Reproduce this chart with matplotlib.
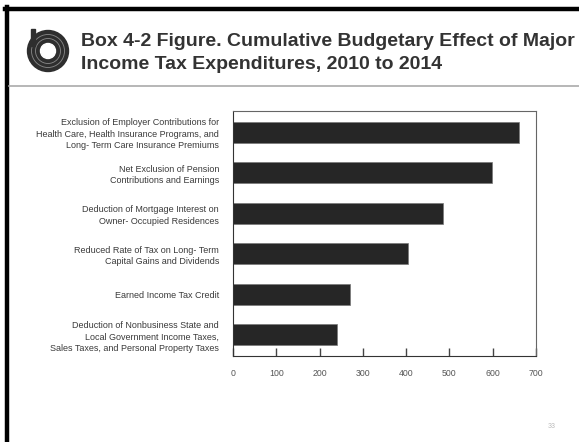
import matplotlib.pyplot as plt
from matplotlib.patches import Circle, Rectangle
import numpy as np

# Data (billions of dollars, 2010-2014)
categories = [
    "Exclusion of Employer Contributions for\nHealth Care, Health Insurance Programs, and\nLong- Term Care Insurance Premiums",
    "Net Exclusion of Pension\nContributions and Earnings",
    "Deduction of Mortgage Interest on\nOwner- Occupied Residences",
    "Reduced Rate of Tax on Long- Term\nCapital Gains and Dividends",
    "Earned Income Tax Credit",
    "Deduction of Nonbusiness State and\nLocal Government Income Taxes,\nSales Taxes, and Personal Property Taxes",
]
values = [660, 598, 484, 405, 270, 240]
xticks = [0, 100, 200, 300, 400, 500, 600, 700]

W, H = 579, 442
plt.rcParams['font.family'] = ['Liberation Sans', 'DejaVu Sans']

fig = plt.figure(figsize=(W / 100, H / 100), dpi=100)


def fx(px):
    return px / W


def fy(py):
    return 1 - py / H


# slide frame: heavy rule on top and left, thin grey rule under the heading
fig.add_artist(plt.Line2D([fx(5), fx(W)], [fy(9), fy(9)], color='black', lw=3.2))
fig.add_artist(plt.Line2D([fx(7), fx(7)], [fy(7), fy(H)], color='black', lw=3.2))
fig.add_artist(plt.Line2D([fx(9), fx(W)], [fy(86), fy(86)], color='#aaaaaa', lw=1.2))

# logo
lax = fig.add_axes([fx(24), fy(75), fx(48), (75 - 28) / H])
lax.set_xlim(-24, 24)
lax.set_ylim(-25, 22)
lax.set_aspect('equal')
lax.axis('off')
lax.add_patch(Circle((0, -1), 20.5, color='#2e2e2e'))
for r in (16.5, 12.5):
    lax.add_patch(Circle((0, -1), r, fill=False, ec='#8a8a8a', lw=0.6))
lax.add_patch(Circle((0, -1), 7.5, color='white'))
lax.add_patch(Rectangle((-17, 4), 4, 17, color='#2e2e2e'))

# heading
fig.text(fx(81), fy(46), "Box 4-2 Figure. Cumulative Budgetary Effect of Major",
         fontsize=14, fontweight='bold', color='#333333', va='baseline')
fig.text(fx(81), fy(69), "Income Tax Expenditures, 2010 to 2014",
         fontsize=14, fontweight='bold', color='#333333', va='baseline')

# bar chart
ax = fig.add_axes([fx(233), fy(356), fx(303), (356 - 111) / H])
ypos = np.arange(len(values))
ax.barh(ypos, values, height=0.52, color='#262626', edgecolor='#777777', lw=0.5)
ax.set_ylim(len(values) - 0.48, -0.52)
ax.set_xlim(0, 700)
ax.set_yticks(ypos)
ax.set_yticklabels(categories, fontsize=6.5, color='#3a3a3a', linespacing=1.35)
ax.tick_params(axis='y', length=0, pad=10)
ax.set_xticks(xticks)
ax.set_xticklabels([str(t) for t in xticks], fontsize=6.3, color='#555555')
ax.tick_params(axis='x', direction='in', length=6, width=1, color='#444444', pad=9)
for side in ('left', 'bottom'):
    ax.spines[side].set_color('#333333')
for side in ('top', 'right'):
    ax.spines[side].set_color('#666666')

# page number
fig.text(fx(552), fy(427), "33", fontsize=5, color='#bbbbbb', ha='center', va='center')

fig.savefig('out.png', dpi=100)
